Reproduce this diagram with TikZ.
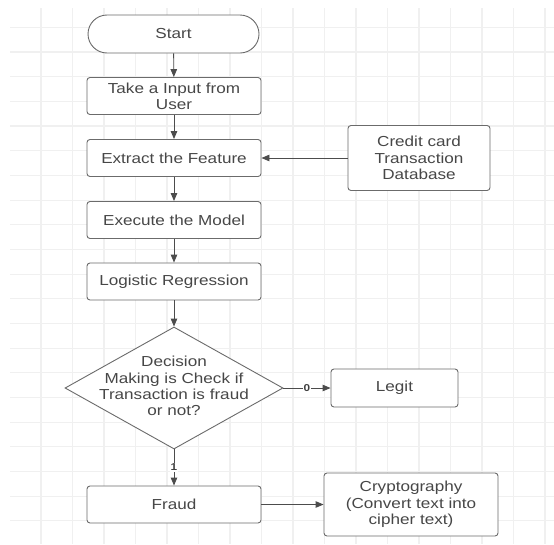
\documentclass[tikz,border=0pt]{standalone}
\usepackage{fontspec}
\setmainfont[FakeStretch=1.18]{Liberation Sans}
\usetikzlibrary{shapes.geometric,shapes.misc,arrows.meta}

\tikzset{
  gridline/.style={draw=black!6, line width=1.1pt},
  box/.style={draw=black!58, line width=0.9pt, fill=white, rounded corners=3pt,
    text=black!72, align=center, minimum width=174pt, minimum height=37pt,
    inner sep=2pt, font=\fontsize{14.5}{16.3}\selectfont},
  arr/.style={draw=black!70, line width=0.9pt, -{Triangle[length=8pt,width=6.5pt]}},
  lbl/.style={fill=white, inner sep=1pt, text=black!75,
    font=\fontsize{10}{11}\selectfont\bfseries},
}

\begin{document}
\begin{tikzpicture}[x=1pt,y=-1pt]
\useasboundingbox[fill=white] (0,0) rectangle (554,544);

%% background grid
\foreach \gx in {0,...,16}
{
  \draw[gridline] (41+31.5*\gx,8) -- (41+31.5*\gx,544);
}
\foreach \gy in {0,...,20}
{
  \draw[gridline] (10,27.3+24.68*\gy) -- (554,27.3+24.68*\gy);
}

%% main column
\node[box, sharp corners, rounded rectangle, minimum width=175pt, minimum height=38pt] (start) at (173.5,34) {Start};
\node[box] (input) at (174,96) {Take a Input from\\User};
\node[box] (extract) at (174,158) {Extract the Feature};
\node[box] (execute) at (174,220) {Execute the Model};
\node[box] (logit) at (174,281.5) {Logistic Regression};
\node[box, sharp corners, diamond, minimum width=218pt, minimum height=122pt] (decide) at (174,388) {};
\node[text=black!72, align=center, font=\fontsize{14.5}{16.3}\selectfont] (decidetext) at (174,386) {Decision\\Making is Check if\\Transaction is fraud\\or not?};
\node[box] (fraud) at (174,504.5) {Fraud};

%% right side
\node[box, minimum width=142pt, minimum height=65pt] (db) at (419,158) {Credit card\\Transaction\\Database};
\node[box, minimum width=127pt, minimum height=38pt] (legit) at (394.5,388) {Legit};
\node[box, minimum width=174pt, minimum height=63pt] (crypto) at (411,504.5) {Cryptography\\(Convert text into\\cipher text)};

%% arrows
\draw[arr] (start) -- (input);
\draw[arr] (input) -- (extract);
\draw[arr] (db) -- (extract);
\draw[arr] (extract) -- (execute);
\draw[arr] (execute) -- (logit);
\draw[arr] (logit) -- (decide);
\draw[arr] (decide) -- node[lbl] (zero) {0} (legit);
\draw[arr] (decide) -- node[lbl] (one) {1} (fraud);
\draw[arr] (fraud) -- (crypto);

\end{tikzpicture}
\end{document}
